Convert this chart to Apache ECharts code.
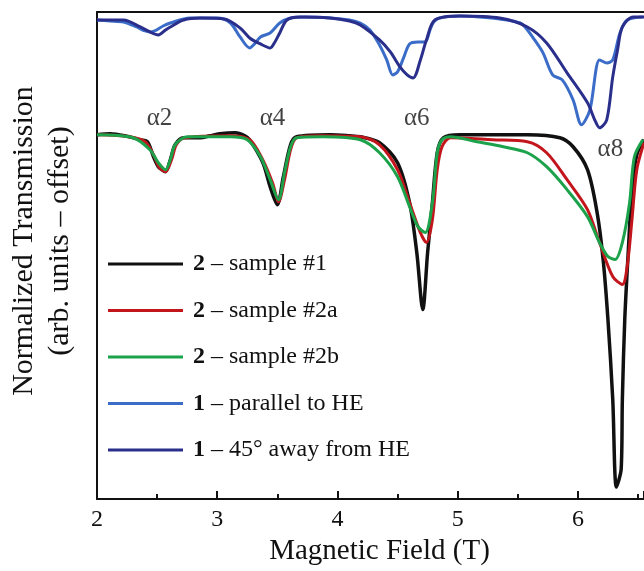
<!DOCTYPE html>
<html lang="en">
<head>
<meta charset="UTF-8">
<title>Magnetic field transmission</title>
<script src="https://cdn.jsdelivr.net/npm/echarts@6/dist/echarts.min.js"></script>
<style>
  html, body { margin: 0; padding: 0; background: #fff; }
  #chart { width: 644px; height: 571px; }
</style>
</head>
<body>
<div id="chart"></div>
<script>
// [field (T), transmission (arb. units, offset)]
const parallelHE = [[2.00,4.80],[2.11,4.79],[2.22,4.78],[2.33,4.73],[2.40,4.69],[2.44,4.68],[2.48,4.69],[2.55,4.74],[2.61,4.77],[2.77,4.82],[3.00,4.82],[3.11,4.77],[3.19,4.63],[3.27,4.52],[3.31,4.56],[3.36,4.63],[3.44,4.67],[3.52,4.77],[3.61,4.82],[3.73,4.83],[3.94,4.82],[4.10,4.80],[4.19,4.77],[4.27,4.70],[4.35,4.55],[4.41,4.40],[4.46,4.25],[4.50,4.28],[4.55,4.42],[4.60,4.56],[4.67,4.58],[4.73,4.58],[4.77,4.70],[4.80,4.78],[4.85,4.82],[5.02,4.84],[5.18,4.83],[5.35,4.81],[5.52,4.77],[5.58,4.70],[5.64,4.60],[5.71,4.47],[5.79,4.25],[5.87,4.20],[5.96,4.00],[6.03,3.75],[6.10,3.90],[6.18,4.40],[6.24,4.37],[6.29,4.40],[6.35,4.67],[6.41,4.80],[6.54,4.83]];
const away45 = [[2.00,4.80],[2.22,4.80],[2.36,4.73],[2.44,4.68],[2.51,4.65],[2.57,4.70],[2.61,4.73],[2.72,4.80],[2.86,4.82],[3.06,4.81],[3.19,4.72],[3.27,4.62],[3.36,4.56],[3.44,4.52],[3.48,4.58],[3.52,4.67],[3.58,4.80],[3.69,4.83],[3.94,4.82],[4.10,4.79],[4.19,4.75],[4.35,4.60],[4.44,4.48],[4.52,4.33],[4.58,4.25],[4.63,4.22],[4.69,4.40],[4.74,4.60],[4.81,4.80],[5.02,4.84],[5.35,4.82],[5.58,4.73],[5.74,4.57],[5.91,4.27],[6.08,3.97],[6.14,3.80],[6.18,3.72],[6.24,3.80],[6.29,4.23],[6.33,4.50],[6.37,4.73],[6.46,4.83],[6.55,4.83]];
const sample1 = [[2.00,3.65],[2.11,3.66],[2.23,3.64],[2.36,3.60],[2.42,3.58],[2.47,3.43],[2.51,3.33],[2.54,3.30],[2.57,3.28],[2.61,3.40],[2.65,3.55],[2.72,3.62],[2.86,3.62],[2.94,3.64],[3.02,3.66],[3.15,3.67],[3.23,3.64],[3.27,3.60],[3.38,3.37],[3.44,3.13],[3.50,2.95],[3.55,3.23],[3.61,3.55],[3.66,3.63],[3.94,3.65],[4.10,3.64],[4.19,3.63],[4.35,3.57],[4.50,3.37],[4.60,2.97],[4.66,2.47],[4.71,1.90],[4.75,2.47],[4.79,2.97],[4.83,3.47],[4.88,3.62],[5.02,3.65],[5.58,3.65],[5.85,3.62],[5.96,3.53],[6.08,3.30],[6.16,2.87],[6.21,2.40],[6.25,1.80],[6.29,1.00],[6.32,0.12],[6.36,0.30],[6.37,1.00],[6.39,1.80],[6.42,2.50],[6.45,3.10],[6.49,3.45],[6.55,3.60]];
const sample2a = [[2.00,3.65],[2.27,3.63],[2.40,3.58],[2.47,3.45],[2.52,3.32],[2.57,3.28],[2.62,3.40],[2.66,3.55],[2.73,3.62],[3.11,3.64],[3.27,3.60],[3.37,3.42],[3.46,3.17],[3.51,2.98],[3.56,3.20],[3.61,3.50],[3.66,3.62],[3.85,3.64],[4.19,3.63],[4.35,3.55],[4.50,3.30],[4.60,2.97],[4.69,2.67],[4.74,2.57],[4.79,2.80],[4.83,3.30],[4.87,3.53],[4.94,3.62],[5.29,3.60],[5.58,3.58],[5.74,3.47],[5.91,3.20],[6.08,2.90],[6.18,2.57],[6.29,2.23],[6.37,2.15],[6.41,2.33],[6.45,2.80],[6.49,3.30],[6.55,3.57]];
const sample2b = [[2.00,3.65],[2.30,3.62],[2.44,3.50],[2.51,3.37],[2.57,3.30],[2.61,3.40],[2.65,3.55],[2.75,3.63],[3.11,3.63],[3.25,3.60],[3.36,3.43],[3.44,3.20],[3.51,3.00],[3.56,3.27],[3.61,3.53],[3.66,3.62],[3.88,3.63],[4.19,3.60],[4.35,3.47],[4.50,3.23],[4.60,2.93],[4.67,2.73],[4.73,2.67],[4.79,2.97],[4.83,3.47],[4.87,3.60],[4.94,3.63],[5.16,3.58],[5.38,3.53],[5.58,3.47],[5.74,3.33],[5.91,3.10],[6.08,2.83],[6.18,2.57],[6.25,2.43],[6.31,2.40],[6.37,2.57],[6.43,2.97],[6.47,3.43],[6.54,3.60]];

// resonance labels and where they sit
const peakNames = ['α2', 'α4', 'α6', 'α8'];
const peakPos = [[2.52, 3.81], [3.46, 3.81], [4.66, 3.81], [6.27, 3.50]];

const seriesNames = ['2 – sample #1', '2 – sample #2a', '2 – sample #2b', '1 – parallel to HE', '1 – 45° away from HE'];
const xTicks = [2, 3, 4, 5, 6];

const serif = '"Liberation Serif", "DejaVu Serif", serif';
const ink = '#111';
const chart = echarts.init(document.getElementById('chart'));

function trace(name, data, color, width) {
  return {
    name: name,
    type: 'line',
    data: data,
    smooth: 0.3,
    showSymbol: false,
    lineStyle: { color: color, width: width },
    itemStyle: { color: color },
    z: 2
  };
}

chart.setOption({
  animation: false,
  grid: { left: 97, right: 0, top: 12, bottom: 71 },
  xAxis: [{
    type: 'value',
    min: 2,
    max: 6.55,
    interval: 1,
    name: 'Magnetic Field (T)',
    nameLocation: 'middle',
    nameGap: 37,
    nameTextStyle: { fontFamily: serif, fontSize: 29, color: ink, padding: [0, 0, 0, 18] },
    axisLine: { lineStyle: { color: ink, width: 2 } },
    axisTick: { inside: true, length: 8, lineStyle: { width: 2, color: ink } },
    minorTick: { show: true, splitNumber: 2, length: 5, lineStyle: { width: 2, color: ink } },
    axisLabel: {
      fontFamily: serif, fontSize: 24, color: ink, margin: 9,
      showMaxLabel: false,
      formatter: v => xTicks.indexOf(v) >= 0 ? String(v) : ''
    },
    splitLine: { show: false }
  }, {
    type: 'value',
    position: 'top',
    min: 2,
    max: 6.55,
    axisLine: { show: true, lineStyle: { color: ink, width: 2 } },
    axisTick: { show: false },
    axisLabel: { show: false },
    splitLine: { show: false }
  }],
  yAxis: {
    type: 'value',
    min: 0,
    max: 4.88,
    axisLine: { show: true, lineStyle: { color: ink, width: 2 } },
    axisTick: { show: false },
    axisLabel: { show: false },
    splitLine: { show: false }
  },
  legend: {
    data: seriesNames,
    orient: 'vertical',
    left: 103,
    top: 246,
    itemWidth: 75,
    itemHeight: 3,
    itemGap: 20.5,
    icon: 'rect',
    selectedMode: false,
    formatter: name => '{b|' + name.slice(0, 1) + '}' + name.slice(1),
    textStyle: {
      fontFamily: serif, fontSize: 24, color: ink, lineHeight: 26,
      padding: [0, 0, 0, 5],
      rich: { b: { fontFamily: serif, fontSize: 24, fontWeight: 'bold', color: ink } }
    }
  },
  graphic: [{
    type: 'text',
    x: 42,
    y: 241,
    rotation: Math.PI / 2,
    style: {
      text: 'Normalized Transmission\n(arb. units – offset)',
      font: '30px ' + serif,
      fill: ink,
      align: 'center',
      verticalAlign: 'middle',
      lineHeight: 36
    }
  }],
  series: [
    trace(seriesNames[3], parallelHE, '#3a6cc8', 3),
    trace(seriesNames[4], away45, '#2b2f8c', 3),
    trace(seriesNames[0], sample1, '#111111', 3.5),
    trace(seriesNames[1], sample2a, '#c3161c', 3),
    trace(seriesNames[2], sample2b, '#1ba24a', 3),
    {
      type: 'scatter',
      data: peakPos.map((p, i) => ({ name: peakNames[i], value: p })),
      symbolSize: 0,
      silent: true,
      label: {
        show: true,
        position: 'inside',
        formatter: p => p.name,
        fontFamily: serif,
        fontSize: 25,
        color: ink
      },
      z: 5
    }
  ]
});
</script>
</body>
</html>
